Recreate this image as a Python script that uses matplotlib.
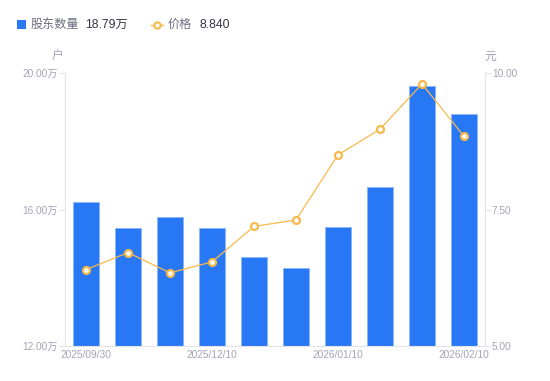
import matplotlib
matplotlib.use("Agg")
import matplotlib.pyplot as plt
from matplotlib.lines import Line2D
from matplotlib.patches import Rectangle

plt.rcParams['font.family'] = ['Liberation Sans', 'Noto Sans CJK SC', 'DejaVu Sans']

dates = ["2025/09/30", "2025/10/31", "2025/11/20", "2025/12/10", "2025/12/20",
         "2025/12/31", "2026/01/10", "2026/01/20", "2026/01/31", "2026/02/10"]
holders = [16.22, 15.46, 15.78, 15.47, 14.61, 14.29, 15.48, 16.66, 19.62, 18.79]  # 万户
price = [6.40, 6.71, 6.34, 6.54, 7.19, 7.31, 8.50, 8.97, 9.80, 8.84]
left_ticks = [12.0, 16.0, 20.0]
right_ticks = [5.0, 7.5, 10.0]
shown_labels = [0, 3, 6, 9]

BLUE = '#2878f5'
ORANGE = '#f9b84a'
AXIS = '#e3e3ea'
TXT = '#a3a3b5'

fig = plt.figure(figsize=(5.5, 3.81), dpi=100)
ax = fig.add_axes([65/550, 1-346/381, 420/550, 273/381])
ax2 = ax.twinx()

x = list(range(len(dates)))
ax.bar(x, [h - left_ticks[0] for h in holders], bottom=left_ticks[0], width=0.6,
       color=BLUE, edgecolor='#8ab6fa', linewidth=0.6, zorder=2)
ax.set_xlim(-0.5, len(dates) - 0.5)
ax.set_ylim(left_ticks[0], left_ticks[-1])
ax.set_yticks(left_ticks)
ax.set_yticklabels([f"{v:.2f}万" for v in left_ticks])
ax.set_xticks([x[i] for i in shown_labels])
ax.set_xticklabels([dates[i] for i in shown_labels])

ax2.plot(x, price, color=ORANGE, linewidth=0.9, marker='o', markersize=5,
         markerfacecolor='white', markeredgecolor=ORANGE, markeredgewidth=1.6, zorder=3)
ax2.set_ylim(right_ticks[0], right_ticks[-1])
ax2.set_yticks(right_ticks)
ax2.set_yticklabels([f"{v:.2f}" for v in right_ticks])

for a in (ax, ax2):
    for s in a.spines.values():
        s.set_visible(False)
    a.tick_params(axis='y', colors=AXIS, labelcolor=TXT, labelsize=7.3, length=4, width=0.8, pad=1)
ax.spines['left'].set_visible(True)
ax.spines['left'].set_color(AXIS)
ax.spines['bottom'].set_visible(True)
ax.spines['bottom'].set_color(AXIS)
ax2.spines['right'].set_visible(True)
ax2.spines['right'].set_color(AXIS)
ax.tick_params(axis='x', length=0, labelcolor=TXT, labelsize=7.3, pad=3)
ax.set_zorder(ax2.get_zorder() - 1)
ax2.patch.set_visible(False)

fig.text(58/550, 1-57/381, "户", color=TXT, fontsize=8.5, ha='center', va='center')
fig.text(490/550, 1-57/381, "元", color=TXT, fontsize=8.5, ha='center', va='center')

# legend
fig.patches.append(Rectangle((17/550, 1-29/381), 9/550, 9/381, transform=fig.transFigure,
                             facecolor=BLUE, edgecolor='none', figure=fig))
fig.text(31/550, 1-24.5/381, "股东数量", color='#6d6d80', fontsize=8.7, va='center')
fig.text(85/550, 1-24.5/381, f"{holders[-1]:.2f}万", color='#333344', fontsize=8.7, va='center')
fig.lines.append(Line2D([151/550, 163/550], [1-24.5/381]*2, transform=fig.transFigure,
                        color=ORANGE, linewidth=1))
fig.lines.append(Line2D([157/550], [1-24.5/381], transform=fig.transFigure, color=ORANGE,
                        marker='o', markersize=4.5, markerfacecolor='white',
                        markeredgewidth=1.5, markeredgecolor=ORANGE))
fig.text(168/550, 1-24.5/381, "价格", color='#6d6d80', fontsize=8.7, va='center')
fig.text(199/550, 1-24.5/381, f"{price[-1]:.3f}", color='#333344', fontsize=8.7, va='center')

fig.savefig("out.png", dpi=100)
